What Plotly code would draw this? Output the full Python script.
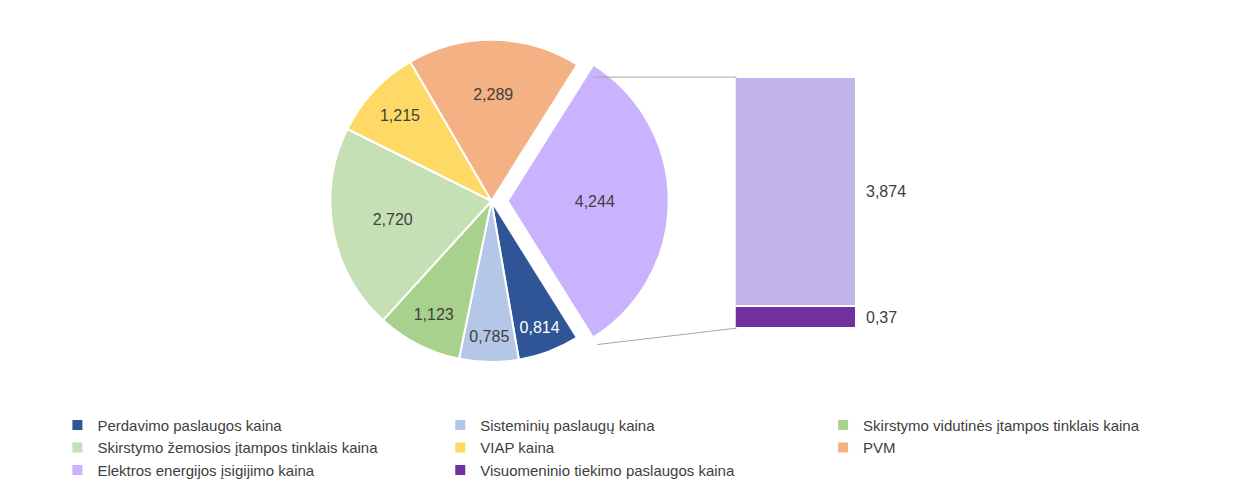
import plotly.graph_objects as go

pie_labels = ["Perdavimo paslaugos kaina", "Sisteminių paslaugų kaina", "Skirstymo vidutinės įtampos tinklais kaina",
              "Skirstymo žemosios įtampos tinklais kaina", "VIAP kaina", "PVM", "Elektros energijos įsigijimo kaina"]
pie_values = [0.814, 0.785, 1.123, 2.720, 1.215, 2.289, 4.244]
pie_text = ["0,814", "0,785", "1,123", "2,720", "1,215", "2,289", "4,244"]
pie_colors = ["#2F5597", "#B4C7E7", "#A9D18E", "#C5E0B4", "#FFD966", "#F4B183", "#C9B3FF"]

bar_labels = ["Visuomeninio tiekimo paslaugos kaina", "Elektros energijos įsigijimo kaina"]
bar_values = [0.37, 3.874]
bar_text = ["0,37", "3,874"]
bar_colors = ["#7030A0", "#C0B4E8"]

FONT = "Liberation Sans"
fig = go.Figure()
fig.add_trace(go.Pie(
    labels=pie_labels, values=pie_values, text=pie_text, textinfo="text",
    textposition="inside", insidetextorientation="horizontal",
    marker=dict(colors=pie_colors, line=dict(color="white", width=2)),
    textfont=dict(family=FONT, size=16, color=["white"] + ["#404040"] * 6),
    sort=False, direction="clockwise", rotation=148,
    pull=[0, 0, 0, 0, 0, 0, 0.1],
    domain=dict(x=[0.248, 0.535], y=[0.2125, 0.9835]),
))
base = 0
for lab, v, c, t in zip(bar_labels, bar_values, bar_colors, bar_text):
    fig.add_trace(go.Bar(x=[0], y=[v], name=lab, marker=dict(color=c, line=dict(color="white", width=2)),
                         showlegend=(lab != "Elektros energijos įsigijimo kaina"),
                         xaxis="x", yaxis="y", hoverinfo="skip"))
    fig.add_annotation(xref="x domain", yref="y", x=1.06, y=base + v / 2, text=t, showarrow=False,
                       xanchor="left", font=dict(family=FONT, size=16, color="#404040"))
    base += v

fig.update_layout(
    barmode="stack", bargap=0,
    xaxis=dict(domain=[0.589, 0.687], visible=False, range=[-0.5, 0.5]),
    yaxis=dict(domain=[0.333, 0.856], visible=False, range=[0, sum(bar_values)]),
    margin=dict(l=0, r=0, t=0, b=0), paper_bgcolor="white", plot_bgcolor="white",
    font=dict(family=FONT, size=15, color="#404040"),
    legend=dict(orientation="h", x=0.04, y=0.165, xanchor="left", yanchor="top",
                entrywidth=0.31, entrywidthmode="fraction", traceorder="normal",
                font=dict(family=FONT, size=15, color="#404040")),
    shapes=[
        dict(type="line", xref="paper", yref="paper", x0=593/1251, y0=0.8559, x1=738/1251, y1=0.856,
             line=dict(color="#A6A6A6", width=1)),
        dict(type="line", xref="paper", yref="paper", x0=597/1251, y0=0.2989, x1=738/1251, y1=0.333,
             line=dict(color="#A6A6A6", width=1)),
    ],
)
fig.write_html("out.html")
